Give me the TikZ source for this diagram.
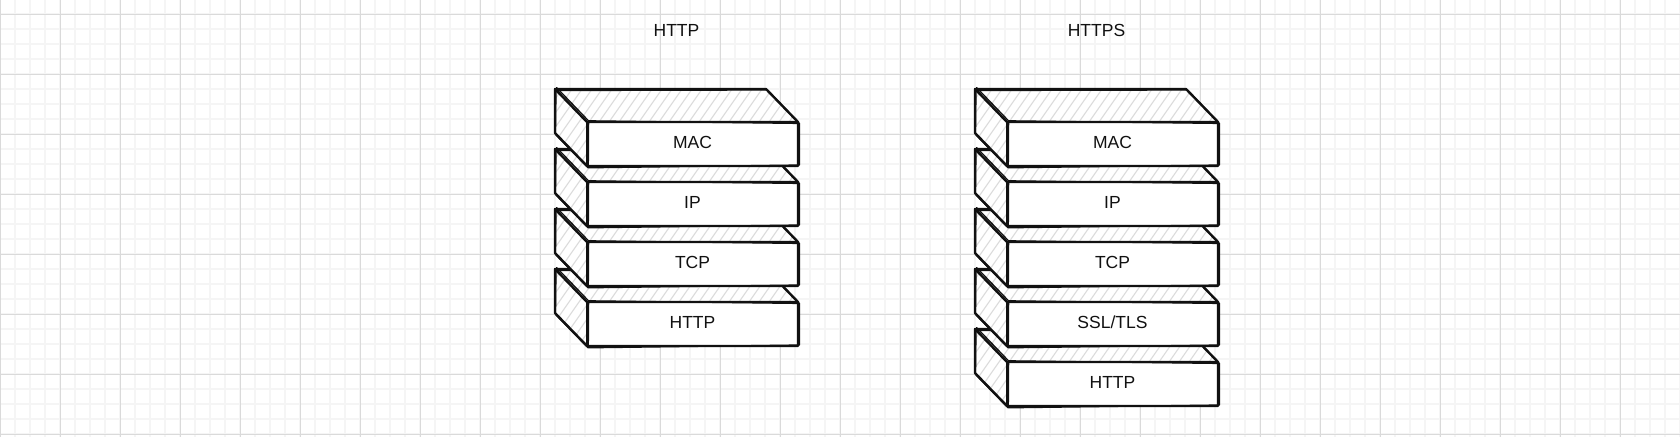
\documentclass[tikz,border=0pt]{standalone}
\usepackage{fontspec}
\setmainfont{Liberation Sans}
\definecolor{gridmajor}{HTML}{DADADA}
\definecolor{gridminor}{HTML}{F5F5F5}
\definecolor{hatchcol}{HTML}{DCDCDC}
\definecolor{ink}{HTML}{111111}
\tikzset{
  minorgrid/.style={gridminor, line width=2pt},
  majorgrid/.style={gridmajor, line width=1pt},
  hatchline/.style={hatchcol, line width=1.1pt},
  edge/.style={ink, line width=2.4pt, line join=round, line cap=round},
  edgetwo/.style={ink, line width=1.3pt, line join=round, line cap=round},
  layertext/.style={anchor=base, inner sep=0pt, text=ink, font=\fontsize{17.5pt}{21pt}\selectfont},
  titletext/.style={anchor=base, inner sep=0pt, text=ink, font=\fontsize{17.5pt}{21pt}\selectfont}
}
\newcommand{\netlayer}[4]{%
  \begin{scope}[shift={(#1,#2)}]
    \fill[white] (-32,-33) -- (179,-33) -- (211,0) -- (211,44) -- (0,44) -- (-32,11) -- cycle;
    \begin{scope}
      \clip (-32,-33) -- (179,-33) -- (211,0) -- (0,0) -- (0,44) -- (-32,11) -- cycle;
      \foreach \i in {0,10,...,380} \draw[hatchline] (-110+\i,60) -- ++(84,-120);
    \end{scope}
    \draw[edge] (-32,-33) -- (179,-33) -- (211,0) -- (211,44) -- (0,44) -- (-32,11) -- cycle;
    \draw[edge] (-32,-33) -- (0,0) -- (211,0);
    \draw[edge] (0,0) -- (0,44);
    \draw[edgetwo] (-31,-31.5) -- (180.5,-32) -- (212.5,1.5) -- (212.5,43) -- (1,45.8) -- (-31.5,12.5) -- cycle;
    \draw[edgetwo] (-30.5,-34.5) -- (1.5,-1.2) -- (210,1.4);
    \draw[edgetwo] (1.6,1) -- (1.3,45);
    \node[layertext] (#4) at (105.5,26) {#3};
  \end{scope}}
\begin{document}
\begin{tikzpicture}[x=1pt,y=-1pt]
  \useasboundingbox (0,0) rectangle (1680,437);
  \fill[white] (0,0) rectangle (1680,437);
  \foreach \x in {15,30,...,1680} \draw[minorgrid] (\x,0) -- (\x,437);
  \foreach \y in {-1,14,...,437} \draw[minorgrid] (0,\y) -- (1680,\y);
  \foreach \x in {0,60,...,1680} \draw[majorgrid] (\x,0) -- (\x,437);
  \foreach \y in {14,74,...,437} \draw[majorgrid] (0,\y) -- (1680,\y);

  \node[titletext] (titlehttp) at (676.5,36) {HTTP};
  \node[titletext] (titlehttps) at (1096.5,36) {HTTPS};

  % left stack (HTTP)
  \netlayer{587}{302}{HTTP}{lhttp}
  \netlayer{587}{242}{TCP}{ltcp}
  \netlayer{587}{182}{IP}{lip}
  \netlayer{587}{122}{MAC}{lmac}

  % right stack (HTTPS)
  \netlayer{1007}{362}{HTTP}{rhttp}
  \netlayer{1007}{302}{SSL/TLS}{rssl}
  \netlayer{1007}{242}{TCP}{rtcp}
  \netlayer{1007}{182}{IP}{rip}
  \netlayer{1007}{122}{MAC}{rmac}
\end{tikzpicture}
\end{document}
